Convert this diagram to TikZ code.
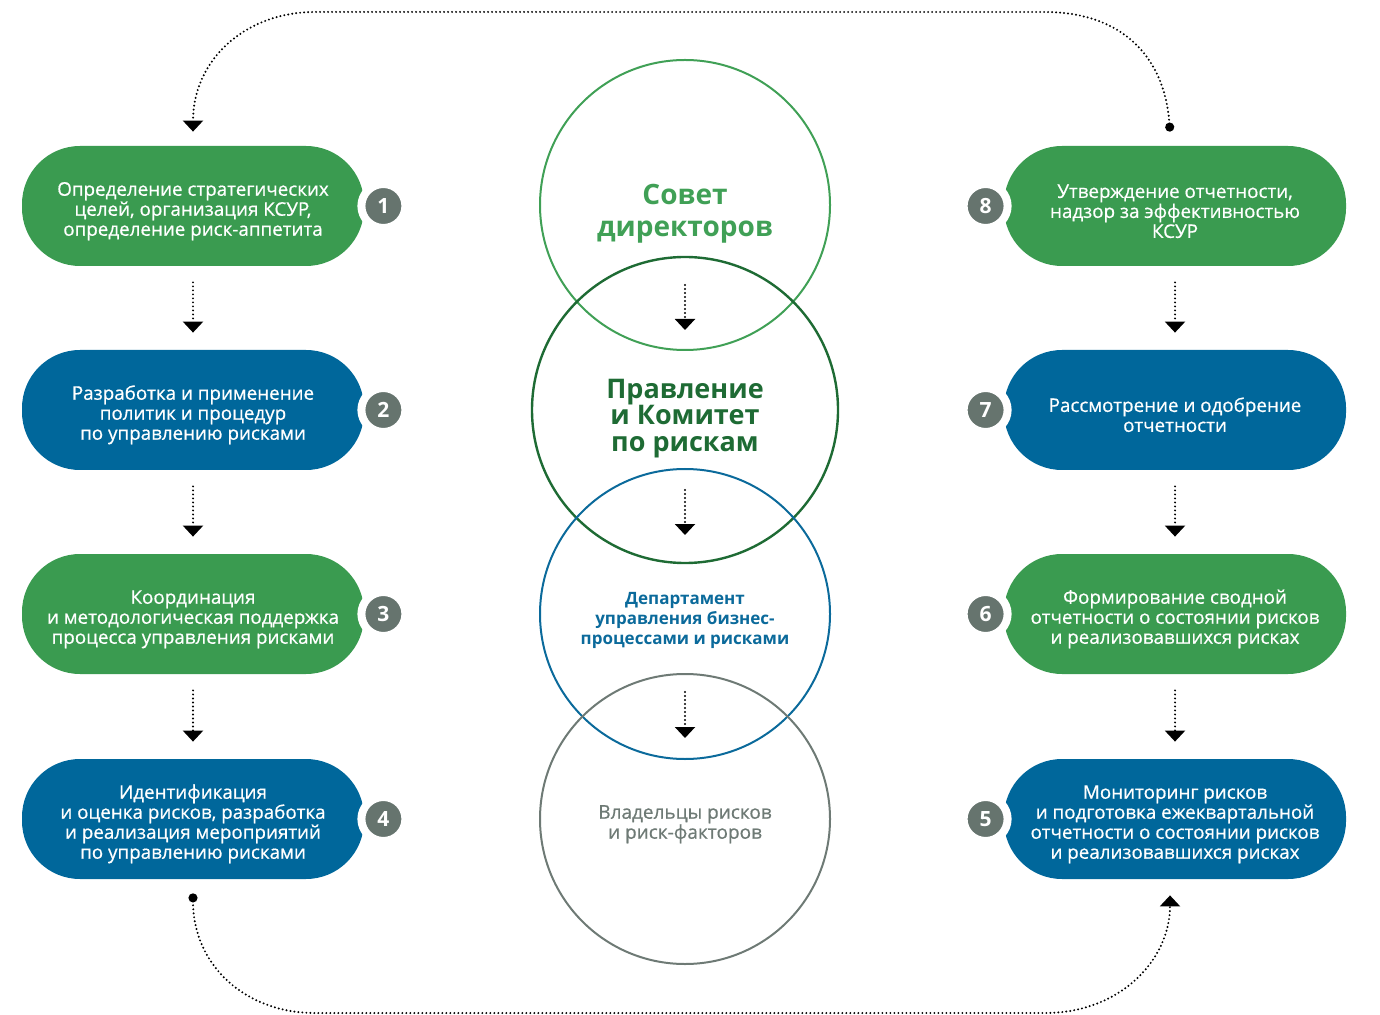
\documentclass[tikz,border=0pt]{standalone}
\usepackage{fontspec}
\setmainfont{Open Sans}
\newfontfamily\mediumfont{Open Sans}[FakeBold=0.6]
\usetikzlibrary{arrows.meta,calc}

\definecolor{stagegreen}{RGB}{58,155,80}
\definecolor{stageblue}{RGB}{0,103,155}
\definecolor{numgray}{RGB}{102,116,110}
\definecolor{boardgreen}{RGB}{64,160,86}
\definecolor{mgmtgreen}{RGB}{30,107,52}
\definecolor{deptblue}{RGB}{11,106,155}
\definecolor{ownergray}{RGB}{110,122,117}

% raises the top of a text block, so that it sits a bit lower
\newcommand\topgap[1]{\rule{0pt}{#1}}

\begin{document}
\begin{tikzpicture}[x=0.5pt, y=-0.5pt, line join=round,
	stage/.style={rectangle, rounded corners=29pt, minimum width=171pt, minimum height=60pt,
		inner sep=0pt, text=white, align=center,
		font=\mediumfont\fontsize{9.4}{10}\selectfont},
	greenstage/.style={stage, fill=stagegreen},
	bluestage/.style={stage, fill=stageblue},
	num/.style={circle, fill=numgray, draw=white, line width=4pt, minimum size=22pt,
		inner sep=0pt, text=white, font=\fontsize{10.5}{10.5}\selectfont\bfseries},
	body/.style={circle, inner sep=0pt, line width=1pt, align=center},
	flow/.style={-{Triangle[width=10pt,length=5.5pt]}, line width=1.1pt,
		dash pattern=on 0pt off 2pt, line cap=round},
	loopflow/.style={flow, {Circle[length=4.5pt]}-{Triangle[width=10pt,length=5.5pt]}}]

	\useasboundingbox (0,0) rectangle (1380,1015);

	% ================= left column: stages 1-4 =================
	\node[greenstage] (l1) at (193,206) {\topgap{12pt}Определение стратегических\\целей, организация КСУР,\\определение риск-аппетита};
	\node[bluestage]  (l2) at (193,410) {\topgap{12pt}Разработка и применение\\политик и процедур\\по управлению рисками};
	\node[greenstage] (l3) at (193,614) {\topgap{12pt}Координация\\и методологическая поддержка\\процесса управления рисками};
	\node[bluestage]  (l4) at (193,819) {\topgap{12pt}Идентификация\\и оценка рисков, разработка\\и реализация мероприятий\\по управлению рисками};

	\node[num] (n1) at ($(l1.east)+(19,0)$) {1};
	\node[num] (n2) at ($(l2.east)+(19,0)$) {2};
	\node[num] (n3) at ($(l3.east)+(19,0)$) {3};
	\node[num] (n4) at ($(l4.east)+(19,0)$) {4};

	% ================= right column: stages 8-5 =================
	\node[greenstage] (r8) at (1175,206) {\topgap{12pt}Утверждение отчетности,\\надзор за эффективностью\\КСУР};
	\node[bluestage]  (r7) at (1175,410) {\topgap{12pt}Рассмотрение и одобрение\\отчетности};
	\node[greenstage] (r6) at (1175,614) {\topgap{12pt}Формирование сводной\\отчетности о состоянии рисков\\и реализовавшихся рисках};
	\node[bluestage]  (r5) at (1175,819) {\topgap{12pt}Мониторинг рисков\\и подготовка ежеквартальной\\отчетности о состоянии рисков\\и реализовавшихся рисках};

	\node[num] (n8) at ($(r8.west)+(-18,0)$) {8};
	\node[num] (n7) at ($(r7.west)+(-18,0)$) {7};
	\node[num] (n6) at ($(r6.west)+(-18,0)$) {6};
	\node[num] (n5) at ($(r5.west)+(-18,0)$) {5};

	\foreach \a/\b in {l1/l2, l2/l3, l3/l4, r8/r7, r7/r6, r6/r5}
		\draw[flow] ($(\a.south)+(0,16)$) -- ($(\b.north)+(0,-17)$);

	% ================= middle: bodies =================
	\node[body, draw=boardgreen, minimum size=145pt, text=boardgreen,
		font=\fontsize{14}{16}\selectfont\bfseries] (board) at (685,205) {\topgap{18.5pt}Совет\\директоров};
	\node[body, draw=mgmtgreen, minimum size=153pt, line width=1.2pt, text=mgmtgreen,
		font=\fontsize{13.5}{13.3}\selectfont\bfseries] (mgmt) at (685,410) {\topgap{18pt}Правление\\и Комитет\\по рискам};
	\node[body, draw=deptblue, minimum size=145pt, text=deptblue,
		font=\fontsize{8.5}{9.8}\selectfont\bfseries] (dept) at (685,614) {\topgap{12.5pt}Департамент\\управления бизнес-\\процессами и рисками};
	\node[body, draw=ownergray, minimum size=145pt, text=ownergray,
		font=\mediumfont\fontsize{9.5}{10}\selectfont] (owners) at (685,819) {\topgap{12pt}Владельцы рисков\\и риск-факторов};

	\draw[flow] ($(board.center)+(0,80)$) -- ($(mgmt.center)+(0,-80)$);
	\draw[flow] ($(mgmt.center)+(0,80)$) -- ($(dept.center)+(0,-79)$);
	\draw[flow] ($(dept.center)+(0,78)$) -- ($(owners.center)+(0,-81)$);

	% ================= loops round the columns =================
	\draw[loopflow] ($(r8.north)+(-5,-14)$) .. controls (1164,50) and (1115,12) .. (1045,12)
		-- (315,12) .. controls (245,12) and (193,60) .. ($(l1.north)+(0,-14)$);
	\draw[loopflow] ($(l4.south)+(0,14)$) .. controls (193,965) and (245,1013) .. (315,1013)
		-- (1045,1013) .. controls (1120,1013) and (1170,960) .. ($(r5.south)+(-5,16)$);

\end{tikzpicture}
\end{document}
